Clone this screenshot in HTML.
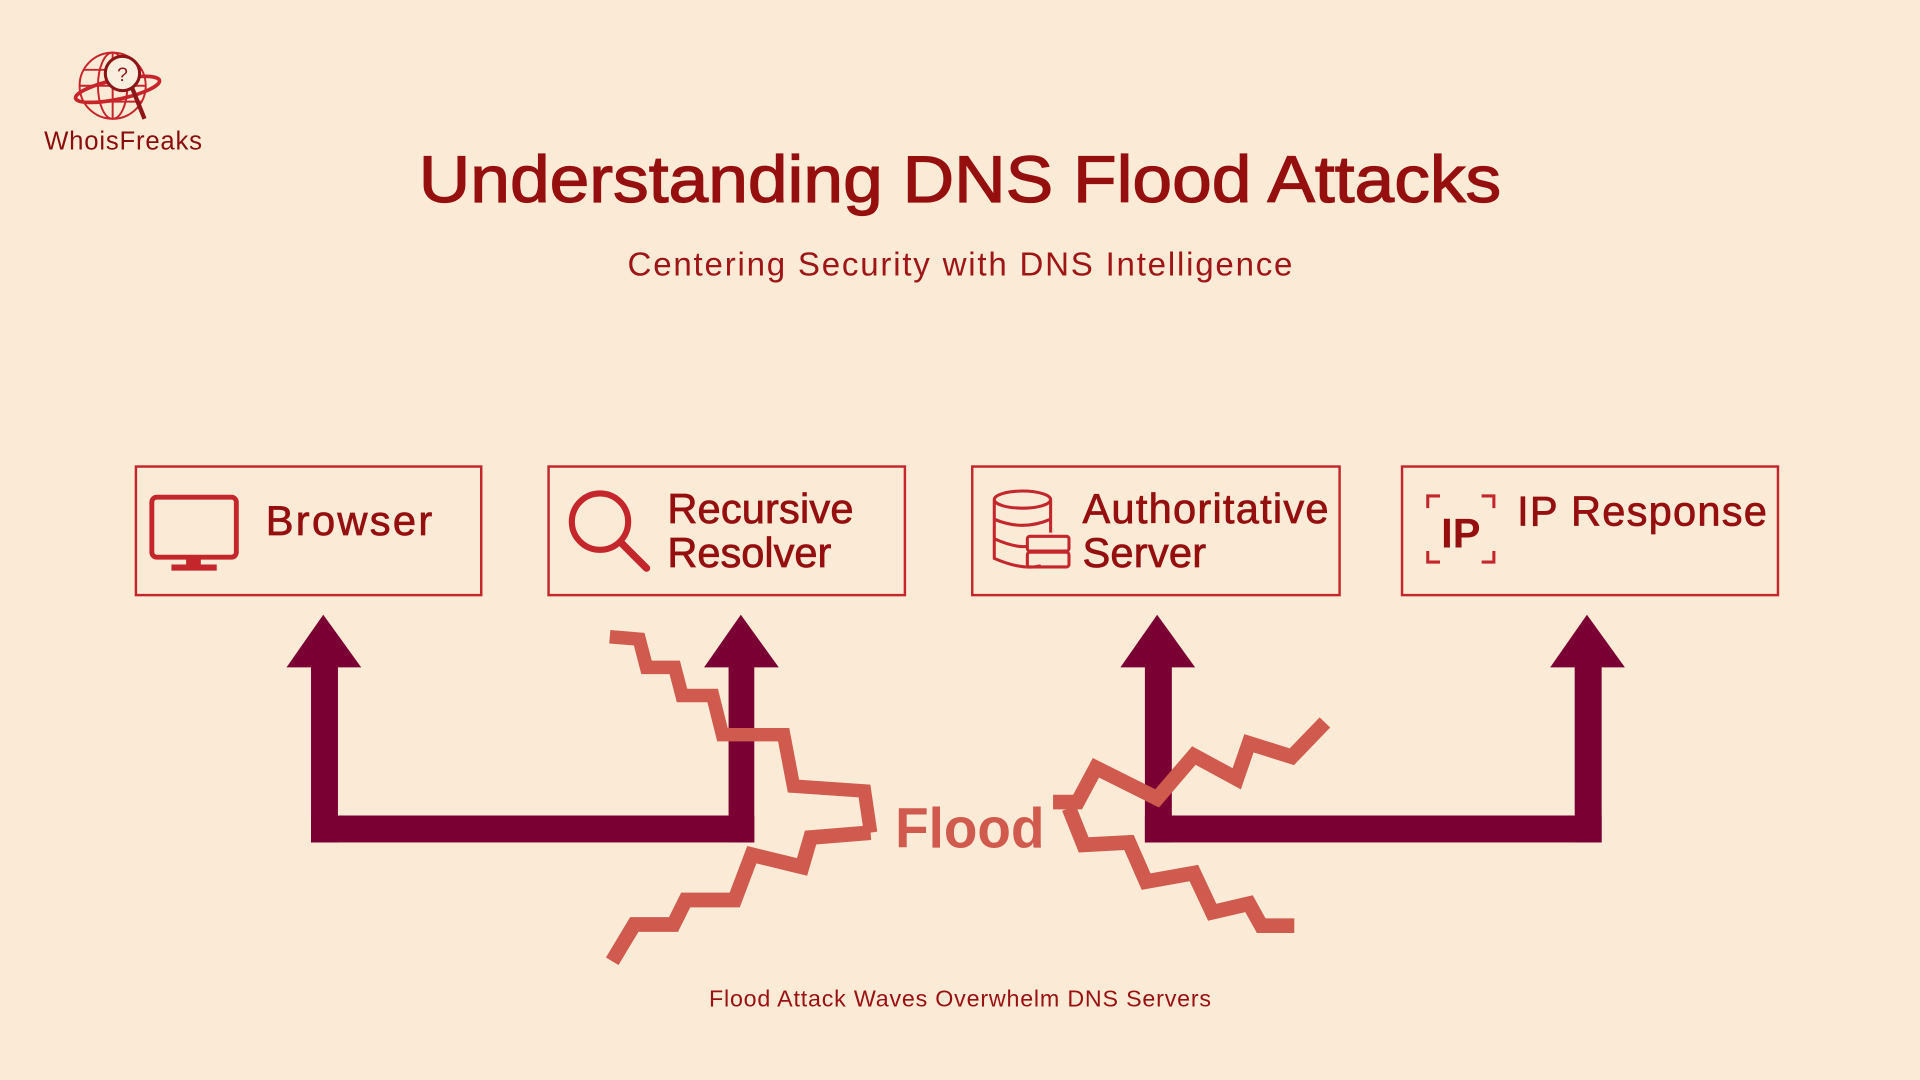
<!DOCTYPE html>
<html><head><meta charset="utf-8"><style>
html,body{margin:0;padding:0;background:#faead6;}
svg{display:block}
text{font-family:"Liberation Sans",sans-serif}
</style></head><body>
<svg width="1920" height="1080" viewBox="0 0 1568 882" xmlns="http://www.w3.org/2000/svg">
<rect width="1568" height="882" fill="#faead6"/>
<!-- logo -->
<g fill="none" stroke="#c8242a" stroke-width="1.6">
<circle cx="92" cy="70" r="27"/>
<ellipse cx="92" cy="70" rx="12" ry="27"/>
<line x1="65" y1="70" x2="119" y2="70"/>
<line x1="68" y1="57" x2="116" y2="57"/>
<line x1="68" y1="83" x2="116" y2="83"/>
<line x1="92" y1="43" x2="92" y2="97"/>
<ellipse cx="96" cy="73" rx="35" ry="8" transform="rotate(-12 96 73)" stroke-width="3"/>
</g>
<circle cx="100" cy="60" r="14" fill="#fbeede" stroke="#8e1515" stroke-width="2.5"/>
<line x1="108" y1="72" x2="118" y2="97" stroke="#8e1515" stroke-width="3.5"/>
<text x="100" y="66" font-size="16" fill="#8e1515" text-anchor="middle" font-family="Liberation Serif">?</text>
<text x="36" y="122" font-size="21" fill="#8b0d0d" textLength="129">WhoisFreaks</text>
<!-- titles -->
<text x="784" y="165" font-size="54" fill="#960f0f" stroke="#960f0f" stroke-width="1" text-anchor="middle" textLength="884" lengthAdjust="spacingAndGlyphs">Understanding DNS Flood Attacks</text>
<text x="784" y="225" font-size="27" fill="#a01515" text-anchor="middle" textLength="543">Centering Security with DNS Intelligence</text>
<!-- boxes -->
<g fill="none" stroke="#c4262b" stroke-width="2">
<rect x="111" y="381" width="282" height="105"/>
<rect x="448" y="381" width="291" height="105"/>
<rect x="794" y="381" width="300" height="105"/>
<rect x="1145" y="381" width="307" height="105"/>
</g>
<g font-size="34" fill="#960f0f" stroke="#960f0f" stroke-width="0.6">
<text x="217" y="437" textLength="136">Browser</text>
<text x="545" y="427" textLength="152">Recursive</text>
<text x="545" y="463" textLength="134">Resolver</text>
<text x="884" y="427" textLength="201">Authoritative</text>
<text x="884" y="463" textLength="101">Server</text>
<text x="1239" y="429" textLength="204">IP Response</text>
</g>
<!-- icons -->
<rect x="124" y="406" width="69" height="49" rx="4" fill="none" stroke="#c4262b" stroke-width="4"/>
<rect x="152" y="455" width="12" height="7" fill="#c4262b"/>
<rect x="140" y="461" width="37" height="5" fill="#c4262b"/>
<circle cx="490" cy="426" r="23" fill="none" stroke="#c4262b" stroke-width="5"/>
<line x1="507" y1="443" x2="528" y2="464" stroke="#c4262b" stroke-width="6" stroke-linecap="round"/>
<g fill="none" stroke="#c4262b" stroke-width="2.5">
<ellipse cx="835" cy="408" rx="23" ry="7"/>
<path d="M812 408 V456 Q835 466 850 462 M858 408 V435"/>
<path d="M812 424 Q835 434 858 424 M812 440 Q830 448 840 446"/>
<rect x="839" y="438" width="34" height="12" rx="2"/>
<rect x="839" y="451" width="34" height="12" rx="2"/>
<path d="M1166 415 V405 H1176 M1210 405 H1220 V415 M1166 450 V459 H1176 M1210 459 H1220 V450"/>
</g>
<text x="1193" y="447" font-size="34" font-weight="bold" fill="#960f0f" text-anchor="middle">IP</text>
<!-- arrows -->
<g fill="#7a0033">
<polygon points="234,545 264,502 295,545"/>
<rect x="254" y="544" width="22" height="144"/>
<rect x="254" y="666" width="362" height="22"/>
<polygon points="575,545 605,502 636,545"/>
<rect x="595" y="544" width="21" height="144"/>
<polygon points="915,545 945,502 976,545"/>
<rect x="935" y="544" width="22" height="144"/>
<rect x="935" y="666" width="373" height="22"/>
<polygon points="1266,545 1296,502 1327,545"/>
<rect x="1286" y="544" width="22" height="144"/>
</g>
<!-- zigzags -->
<g fill="none" stroke="#cf5a4d" stroke-width="12" stroke-linejoin="miter">
<polyline points="498,520 522,522 528,545 551,545 557,568 582,568 590,600 640,600 648,642 706,646 711,680" stroke-width="11"/>
<polyline points="711,680 662,684 655,708 614,698 600,735 560,735 550,755 518,755 500,785"/>
<polyline points="860,655 880,655 895,627 945,652 975,617 1010,636 1020,607 1055,618 1082,590"/>
<polyline points="873,660 885,690 922,688 936,720 975,713 990,745 1020,738 1030,756 1057,756"/>
</g>
<text x="731" y="692" font-size="46" font-weight="bold" fill="#cf5a4d" textLength="122" lengthAdjust="spacingAndGlyphs">Flood</text>
<text x="784" y="822" font-size="19" fill="#9b1010" text-anchor="middle" textLength="410">Flood Attack Waves Overwhelm DNS Servers</text>
</svg>
</body></html>
